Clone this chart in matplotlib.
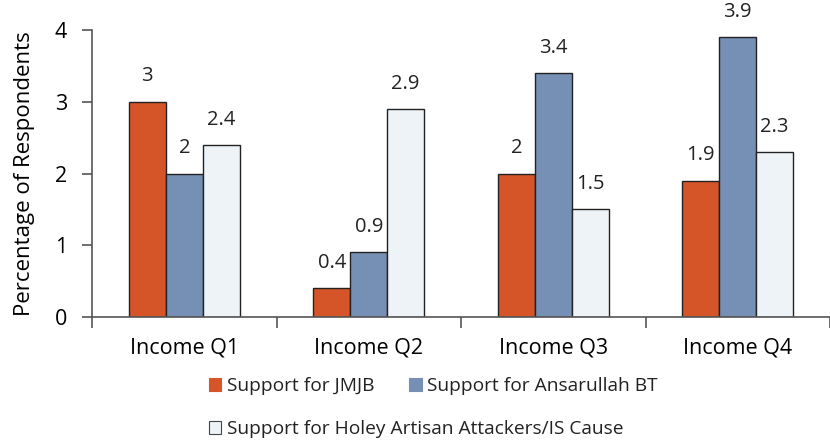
import matplotlib.pyplot as plt
import numpy as np

categories = ['Income Q1', 'Income Q2', 'Income Q3', 'Income Q4']
jmjb = [3, 0.4, 2, 1.9]
ansarullah = [2, 0.9, 3.4, 3.9]
holey = [2.4, 2.9, 1.5, 2.3]
series_names = ['Support for JMJB', 'Support for Ansarullah BT',
                'Support for Holey Artisan Attackers/IS Cause']
colors = ['#D55428', '#7690B5', '#EEF3F7']

plt.rcParams['font.family'] = ['Open Sans', 'DejaVu Sans']
plt.rcParams['text.color'] = '#222222'

fig = plt.figure(figsize=(8.3, 4.41), dpi=100)
ax = fig.add_axes([92 / 830, 124 / 441, 738 / 830, 287 / 441])

x = np.arange(len(categories))
width = 0.2
bars = []
for i, (vals, col) in enumerate(zip([jmjb, ansarullah, holey], colors)):
    b = ax.bar(x + (i - 1) * width, vals, width, color=col,
               edgecolor='#222222', linewidth=1.0, label=series_names[i])
    bars.append(b)
    for rect, v in zip(b, vals):
        ax.annotate(f'{v:g}', (rect.get_x() + rect.get_width() / 2, v),
                    xytext=(0, 11), textcoords='offset points',
                    ha='center', va='bottom', fontsize=14.5)

ax.set_ylim(0, 4)
ax.set_yticks([0, 1, 2, 3, 4])
ax.set_xlim(-0.5, 3.5 - 10 / 187)
ax.set_xticks(x)
ax.set_xticklabels(categories)
ax.set_xticks(np.arange(-0.5, 4, 1), minor=True)
ax.tick_params(axis='x', which='major', length=0, pad=15, labelsize=15.5)
ax.tick_params(axis='x', which='minor', length=8, width=1.2, color='#555555')
ax.tick_params(axis='y', length=7, width=1.2, color='#555555', labelsize=15.5,
               pad=11)
for s in ['top', 'right']:
    ax.spines[s].set_visible(False)
for s in ['left', 'bottom']:
    ax.spines[s].set_color('#555555')
    ax.spines[s].set_linewidth(1.2)
ax.set_ylabel('Percentage of Respondents', fontsize=16, labelpad=14)

leg_kw = dict(loc='upper left', frameon=False, fontsize=13.8,
              handlelength=0.65, handleheight=0.65, handletextpad=0.3,
              borderpad=0, borderaxespad=0)
leg1 = fig.legend(handles=[bars[0], bars[1]],
                  bbox_to_anchor=(209 / 830, 1 - 377 / 441), ncol=2,
                  columnspacing=1.8, **leg_kw)
leg2 = fig.legend(handles=[bars[2]],
                  bbox_to_anchor=(209 / 830, 1 - 420 / 441), **leg_kw)
for leg in (leg1, leg2):
    for h in leg.legend_handles:
        h.set_linewidth(0.8)
leg1.legend_handles[0].set_edgecolor(colors[0])
leg1.legend_handles[1].set_edgecolor(colors[1])
leg2.legend_handles[0].set_edgecolor('#444444')

fig.savefig('out.png', dpi=100)
